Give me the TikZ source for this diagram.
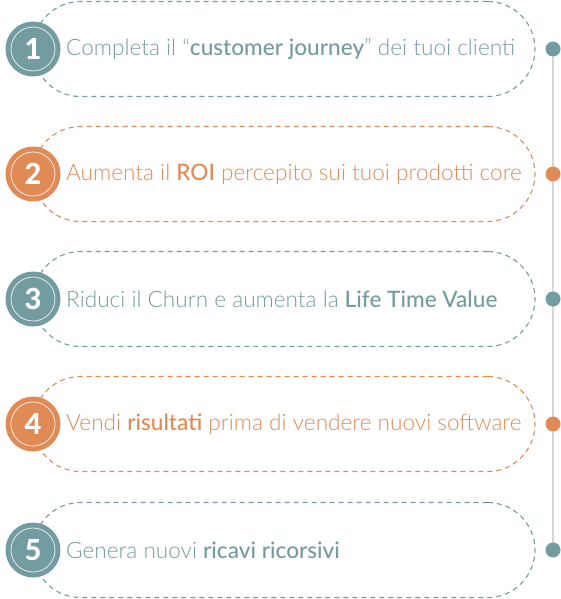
\documentclass[tikz,border=0pt]{standalone}
\usepackage{fontspec}
\setmainfont{Lato}[UprightFont=* Light, BoldFont=* Medium]
\newfontfamily\numfont{Lato}[UprightFont=* Heavy]
\definecolor{teal}{HTML}{739CA1}
\definecolor{orng}{HTML}{E08A56}
\definecolor{rail}{HTML}{D6D6D6}
\begin{document}
\begin{tikzpicture}[x=1pt,y=-1pt,
  stadium/.style={draw=#1, dashed, dash pattern=on 5pt off 4pt, line width=1.1pt,
    rectangle, rounded corners=47.5pt, minimum width=502pt, minimum height=95pt, inner sep=0pt},
  badge/.style={circle, fill=#1, minimum size=55pt, inner sep=0pt, text=white,
    font=\numfont\fontsize{29}{29}\selectfont},
  ring/.style={circle, draw=white!80!#1, line width=0.8pt, minimum size=44pt, inner sep=0pt},
  label/.style={anchor=west, inner sep=0pt, text=#1, font=\fontsize{22.6}{26}\selectfont},
  dot/.style={circle, fill=#1, minimum size=15pt, inner sep=0pt}]
\useasboundingbox (0,0) rectangle (561,599);
\coordinate (railtop) at (553,49);
\coordinate (railbot) at (553,550);
\draw[rail, line width=2pt] (railtop) -- (railbot);
\foreach \i/\y/\c in {1/49/teal,2/174/orng,3/299/teal,4/424/orng,5/550/teal}{
  \node[stadium=\c] (s\i) at (284,\y) {};
  \node[badge=\c] (b\i) at (33,\y) {\i};
  \node[ring=\c] (r\i) at (33,\y) {};
  \node[dot=\c] (d\i) at (553,\y) {};
}
\node[label=teal] (t1) at (66,49) {Completa il “\textbf{customer journey}” dei tuoi clienti};
\node[label=orng] (t2) at (66,174) {Aumenta il \textbf{ROI} percepito sui tuoi prodotti core};
\node[label=teal] (t3) at (66,299) {Riduci il Churn e aumenta la \textbf{Life Time Value}};
\node[label=orng] (t4) at (66,424) {Vendi \textbf{risultati} prima di vendere nuovi software};
\node[label=teal] (t5) at (66,550) {Genera nuovi \textbf{ricavi ricorsivi}};
\end{tikzpicture}
\end{document}
